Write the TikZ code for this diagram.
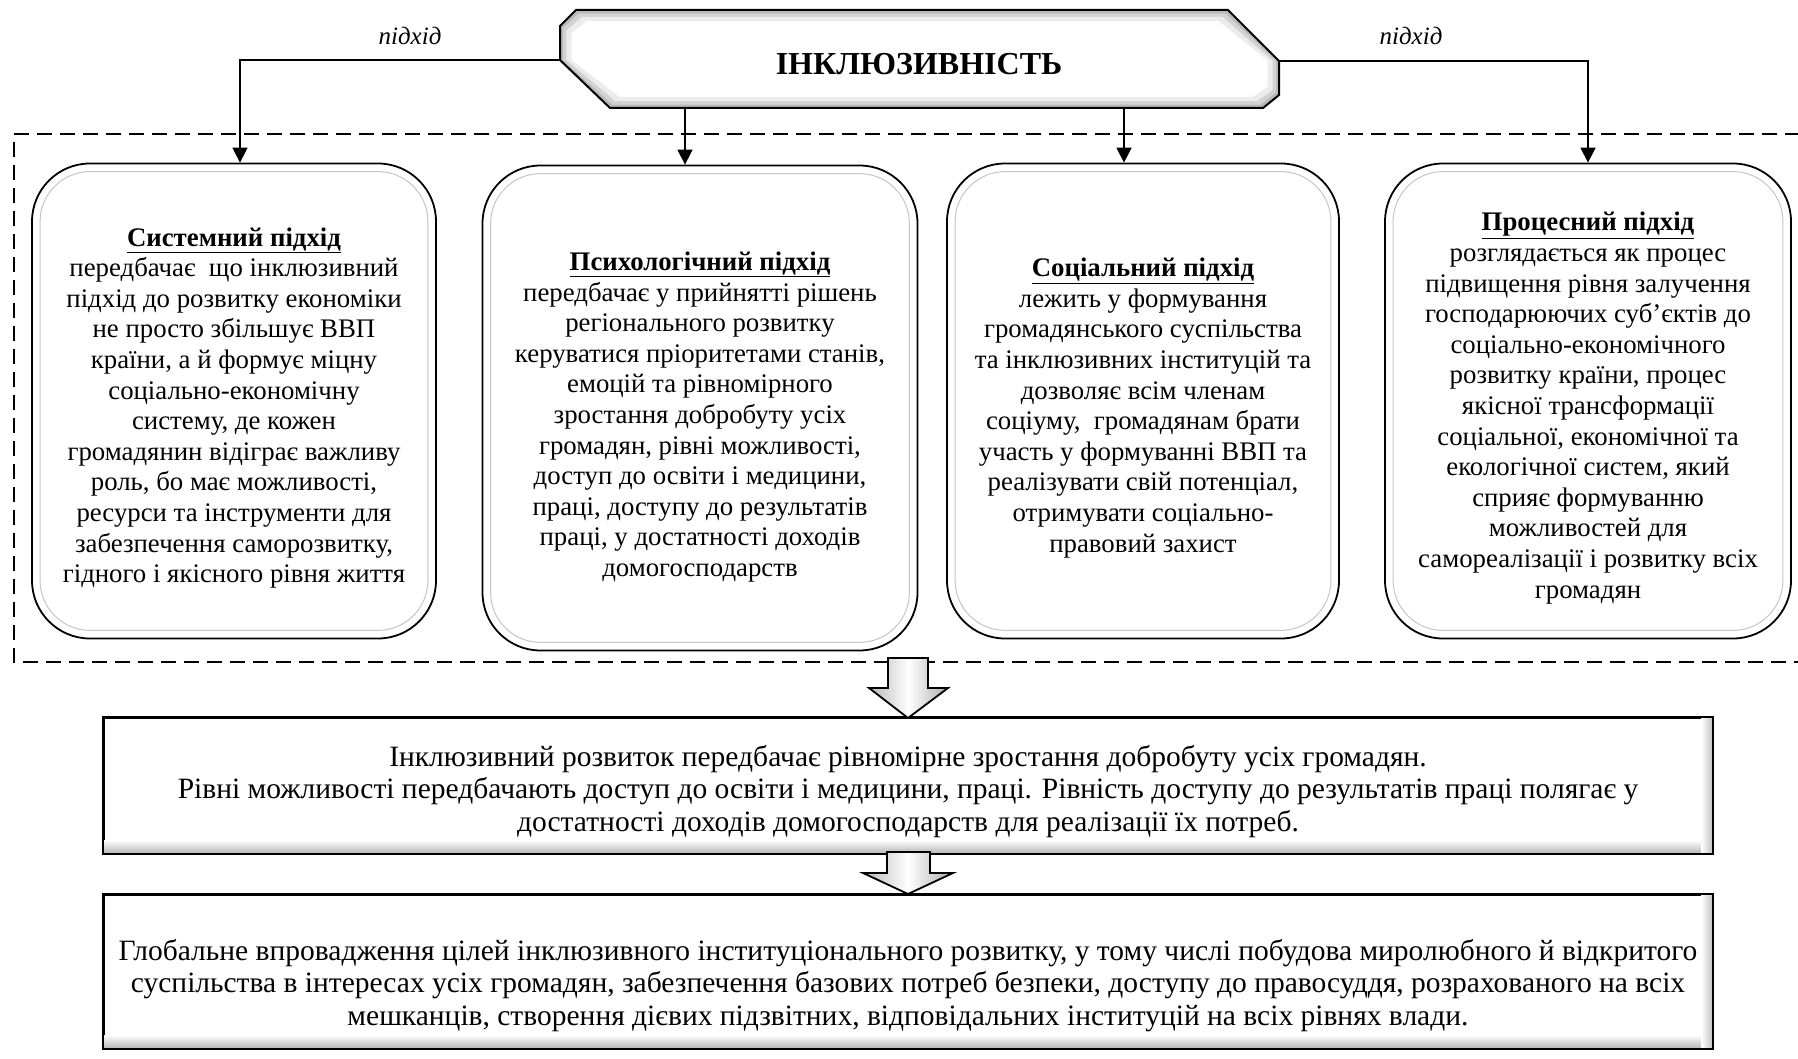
\documentclass[tikz,border=0pt]{standalone}
\usepackage{fontspec}
\setmainfont{Liberation Serif}
\usetikzlibrary{arrows.meta}

\newcommand\boxfont{\fontsize{26.8}{30.6}\selectfont}
\newcommand\widefont{\fontsize{29.5}{32.5}\selectfont}
\newcommand\titlefont{\fontsize{32}{38}\selectfont\bfseries}
\newcommand\tagfont{\fontsize{25}{29}\selectfont\itshape}
% outline of the title plate, relative to its centre
\newcommand\headpath{(-343.5,-49) -- (308.5,-49) -- (359.5,2) -- (359.5,36) -- (343.5,49) -- (-309.5,49) -- (-359.5,1) -- (-359.5,-33) -- cycle}
\newcommand\boxtitle[1]{\underline{\textbf{#1}}}

\begin{document}
\begin{tikzpicture}[x=1pt,y=-1pt,
  conn/.style={line width=1.6pt, -{Triangle[width=15pt,length=15pt]}},
  appbox/.style={draw, line width=1.8pt, rounded corners=58pt, fill=white, inner sep=0pt},
  apptext/.style={align=center, font=\boxfont, inner sep=0pt},
  innerline/.style={draw=gray!45, line width=1pt, rounded corners=50pt},
  widebox/.style={draw, line width=2pt, fill=white, inner sep=0pt, minimum width=1608pt},
  widetext/.style={align=center, font=\widefont, inner sep=0pt},
  frame/.style={dash pattern=on 15pt off 8pt, line width=1.4pt},
  blockarrow/.style={left color=gray!55, right color=gray!65, middle color=white,
    draw=black, line width=1.8pt, line join=miter},
  tag/.style={font=\tagfont}
]
\useasboundingbox (0,0) rectangle (1798,1059);
\fill[white] (0,0) rectangle (1798,1059);

% dashed frame around the four approaches (open on the right)
\draw[frame] (1800,134) -- (14,134) -- (14,662) -- (1800,662);

% title plate with a soft bevel
\begin{scope}[shift={(919.5,59)}]
  \fill[gray!55] \headpath;
  \fill[gray!35, xscale=0.992, yscale=0.93] \headpath;
  \fill[gray!15, xscale=0.982, yscale=0.86] \headpath;
  \fill[white, xscale=0.968, yscale=0.78] \headpath;
  \draw[line width=2pt, line join=miter] \headpath;
\end{scope}
\node[font=\titlefont] (head) at (919,64) {ІНКЛЮЗИВНІСТЬ};

% attachment points on the plate and arrow columns
\coordinate (hl) at (560,60);
\coordinate (hr) at (1279,61);
\coordinate (a1) at (240,0);
\coordinate (a2) at (685,108);
\coordinate (a3) at (1124,108);
\coordinate (a4) at (1588,0);

% the four approaches
\node[appbox, minimum width=404pt, minimum height=475pt] (b1) at (234,401) {};
\node[appbox, minimum width=435pt, minimum height=485pt] (b2) at (700,408) {};
\node[appbox, minimum width=392pt, minimum height=475pt] (b3) at (1143,401) {};
\node[appbox, minimum width=406pt, minimum height=475pt] (b4) at (1588,401) {};

\foreach \b in {b1,b2,b3,b4}
  \draw[innerline] ([shift={(9pt,-9pt)}]\b.north west) rectangle ([shift={(-9pt,9pt)}]\b.south east);

\node[apptext] (b1t) at ([yshift=-7pt]b1.center) {%
  \boxtitle{Системний підхід}\\
  передбачає\ \ що інклюзивний\\
  підхід до розвитку економіки\\
  не просто збільшує ВВП\\
  країни, а й формує міцну\\
  соціально-економічну\\
  систему, де кожен\\
  громадянин відіграє важливу\\
  роль, бо має можливості,\\
  ресурси та інструменти для\\
  забезпечення саморозвитку,\\
  гідного і якісного рівня життя};
\node[apptext] (b2t) at ([yshift=-9pt]b2.center) {%
  \boxtitle{Психологічний підхід}\\
  передбачає у прийнятті рішень\\
  регіонального розвитку\\
  керуватися пріоритетами станів,\\
  емоцій та рівномірного\\
  зростання добробуту усіх\\
  громадян, рівні можливості,\\
  доступ до освіти і медицини,\\
  праці, доступу до результатів\\
  праці, у достатності доходів\\
  домогосподарств};
\node[apptext] (b3t) at ([yshift=-7pt]b3.center) {%
  \boxtitle{Соціальний підхід}\\
  лежить у формування\\
  громадянського суспільства\\
  та інклюзивних інституцій та\\
  дозволяє всім членам\\
  соціуму,\ \ громадянам брати\\
  участь у формуванні ВВП та\\
  реалізувати свій потенціал,\\
  отримувати соціально-\\
  правовий захист};
\node[apptext] (b4t) at ([yshift=-7pt]b4.center) {%
  \boxtitle{Процесний підхід}\\
  розглядається як процес\\
  підвищення рівня залучення\\
  господарюючих суб’єктів до\\
  соціально-економічного\\
  розвитку країни, процес\\
  якісної трансформації\\
  соціальної, економічної та\\
  екологічної систем, який\\
  сприяє формуванню\\
  можливостей для\\
  самореалізації і розвитку всіх\\
  громадян};

% connectors from the title plate
\draw[conn] (hl) -| (a1 |- b1.north);
\draw[conn] (a2) -- (a2 |- b2.north);
\draw[conn] (a3) -- (a3 |- b3.north);
\draw[conn] (hr) -| (a4 |- b4.north);
\node[tag] (tagl) at (410,36) {підхід};
\node[tag] (tagr) at (1411,36) {підхід};

% summary boxes
\node[widebox, minimum height=135pt] (r1) at (908,785.5) {};
\node[widebox, minimum height=153pt] (r2) at (908,971.5) {};

\foreach \r in {r1,r2} {
  \shade[top color=white, bottom color=gray!55]
    ([shift={(1pt,1pt)}]\r.south west) rectangle ([shift={(-1pt,14pt)}]\r.south east);
  \shade[left color=white, right color=gray!45]
    ([shift={(-12pt,1pt)}]\r.south east) rectangle ([shift={(-1pt,-1pt)}]\r.north east);
  \draw[line width=2pt] (\r.south west) rectangle (\r.north east);
}

\node[widetext] (r1t) at ([yshift=-6pt]r1.center) {%
  Інклюзивний розвиток передбачає рівномірне зростання добробуту усіх громадян.\\
  Рівні можливості передбачають доступ до освіти і медицини, праці. Рівність доступу до результатів праці полягає у\\
  достатності доходів домогосподарств для реалізації їх потреб.};
\node[widetext] (r2t) at ([yshift=-14pt]r2.center) {%
  Глобальне впровадження цілей інклюзивного інституціонального розвитку, у тому числі побудова миролюбного й відкритого\\
  суспільства в інтересах усіх громадян, забезпечення базових потреб безпеки, доступу до правосуддя, розрахованого на всіх\\
  мешканців, створення дієвих підзвітних, відповідальних інституцій на всіх рівнях влади.};

% hollow block arrows between the levels
\shadedraw[blockarrow] (888,658) -- (928,658) -- (928,688) -- (948,688) -- (908,718)
  -- (869,688) -- (888,688) -- cycle;
\shadedraw[blockarrow] (887,852) -- (930,852) -- (930,873) -- (953,873) -- (908,894)
  -- (863,873) -- (887,873) -- cycle;
\end{tikzpicture}
\end{document}
